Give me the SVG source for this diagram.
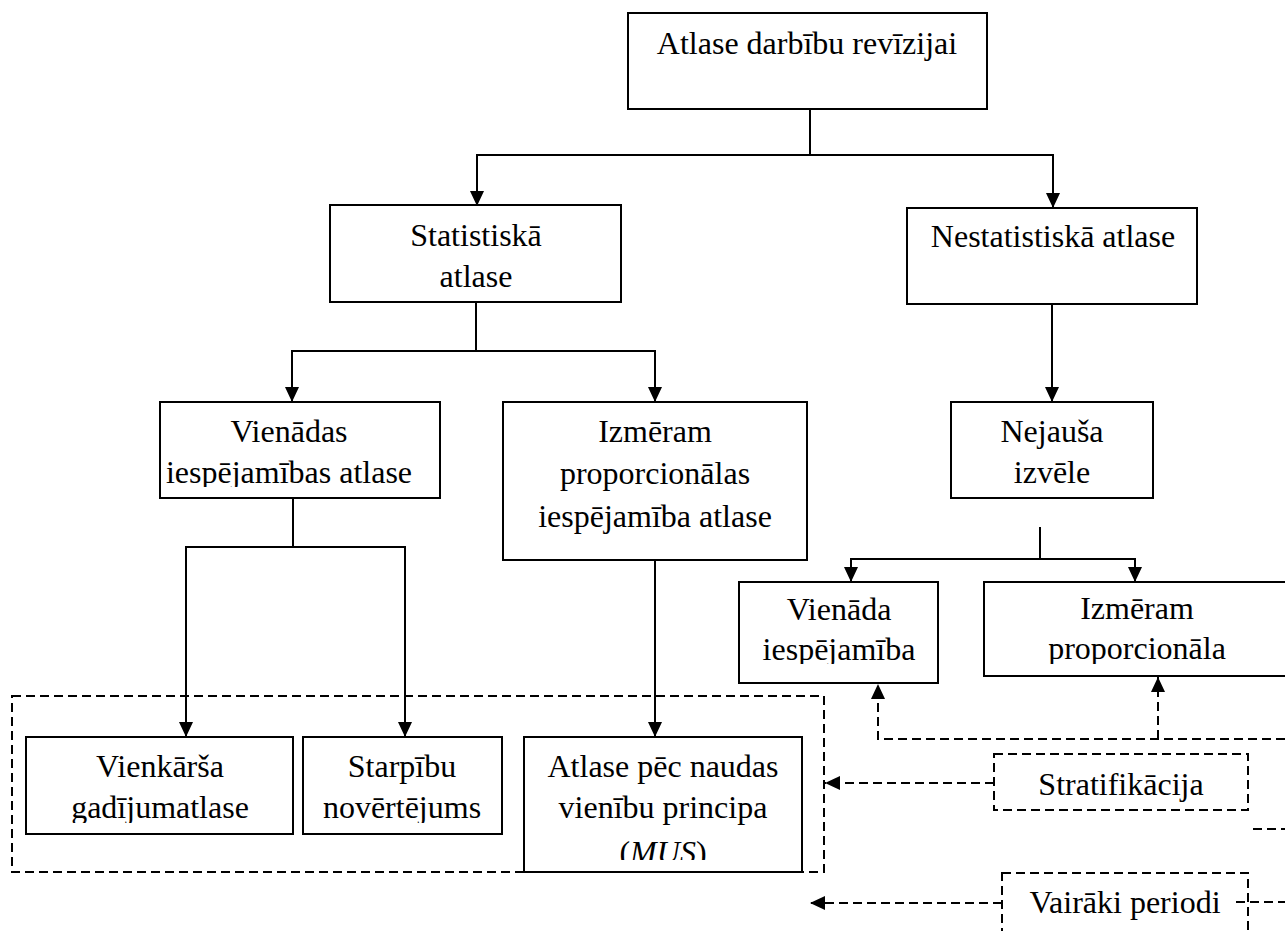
<svg xmlns="http://www.w3.org/2000/svg" width="1285" height="931" viewBox="0 0 1285 931">
<style>
.box{fill:#fff;stroke:#000;stroke-width:2}
.dbox{fill:none;stroke:#000;stroke-width:2;stroke-dasharray:9 5}
.t{font-family:"Liberation Serif","Times New Roman",serif;font-size:32px;fill:#000;text-anchor:middle}
.ln{fill:none;stroke:#000;stroke-width:2}
.arr{fill:none;stroke:#000;stroke-width:2;marker-end:url(#ah)}
.darr{fill:none;stroke:#000;stroke-width:2;stroke-dasharray:9 5;marker-end:url(#ah)}
.dln{fill:none;stroke:#000;stroke-width:2;stroke-dasharray:9 5}
</style>
<defs>
<marker id="ah" markerUnits="userSpaceOnUse" markerWidth="16" markerHeight="14" refX="15" refY="7" orient="auto">
<path d="M0,0 L15,7 L0,14 z" fill="#000"/>
</marker>
<clipPath id="c-vienadas"><rect x="160" y="402" width="280" height="85"/></clipPath>
<clipPath id="c-vienada"><rect x="739" y="582" width="199" height="82"/></clipPath>
<clipPath id="c-izmprop"><rect x="984" y="582" width="306" height="82"/></clipPath>
<clipPath id="c-bottom"><rect x="0" y="737" width="520" height="86"/></clipPath>
<clipPath id="c-mus"><rect x="524" y="737" width="278" height="123"/></clipPath>
</defs>
<rect width="1285" height="931" fill="#fff"/>

<g id="connectors">
<path class="ln" d="M810,109 V155"/>
<path class="arr" d="M810,155 H477 V206"/>
<path class="arr" d="M810,155 H1053 V208"/>
<path class="ln" d="M476,302 V351"/>
<path class="arr" d="M476,351 H292 V402"/>
<path class="arr" d="M476,351 H655 V402"/>
<path class="arr" d="M1052,304 V402"/>
<path class="ln" d="M293,498 V547"/>
<path class="arr" d="M293,547 H186 V737"/>
<path class="arr" d="M293,547 H405 V737"/>
<path class="arr" d="M655,560 V737"/>
<path class="ln" d="M1040,527 V559"/>
<path class="arr" d="M1040,559 H851 V582"/>
<path class="arr" d="M1040,559 H1135 V582"/>
<path class="darr" d="M1285,739 H878 V684"/>
<path class="darr" d="M1158,739 V677"/>
<path class="darr" d="M994,783 H825"/>
<path class="dln" d="M1253,829 H1285"/>
<path class="darr" d="M1002,903 H810"/>
<path class="dln" d="M1236,902 H1285"/>
</g>

<g id="group-statistical-methods">
<rect class="dbox" x="12" y="696" width="812" height="176"/>
</g>

<g id="node-top">
<rect class="box" x="628" y="13" width="359" height="96"/>
<text class="t" x="807" y="54">Atlase darbību revīzijai</text>
</g>

<g id="node-statistiska">
<rect class="box" x="330" y="205" width="291" height="97"/>
<text class="t" x="476" y="246">Statistiskā</text>
<text class="t" x="476" y="287">atlase</text>
</g>

<g id="node-nestatistiska">
<rect class="box" x="907" y="208" width="290" height="96"/>
<text class="t" x="1053" y="247">Nestatistiskā atlase</text>
</g>

<g id="node-vienadas">
<rect class="box" x="160" y="402" width="280" height="96"/>
<g clip-path="url(#c-vienadas)">
<text class="t" x="289" y="442">Vienādas</text>
<text class="t" x="289" y="483">iespējamības atlase</text>
</g>
</g>

<g id="node-izmeram-proporcionalas">
<rect class="box" x="503" y="402" width="304" height="158"/>
<text class="t" x="655" y="442">Izmēram</text>
<text class="t" x="655" y="484">proporcionālas</text>
<text class="t" x="655" y="527">iespējamība atlase</text>
</g>

<g id="node-nejausa">
<rect class="box" x="951" y="402" width="202" height="96"/>
<text class="t" x="1052" y="442">Nejauša</text>
<text class="t" x="1052" y="483">izvēle</text>
</g>

<g id="node-vienada">
<rect class="box" x="739" y="582" width="199" height="101"/>
<g clip-path="url(#c-vienada)">
<text class="t" x="839" y="620">Vienāda</text>
<text class="t" x="839" y="660">iespējamība</text>
</g>
</g>

<g id="node-izmeram-proporcionala">
<rect class="box" x="984" y="582" width="306" height="94"/>
<g clip-path="url(#c-izmprop)">
<text class="t" x="1137" y="619">Izmēram</text>
<text class="t" x="1137" y="659">proporcionāla</text>
</g>
</g>

<g id="node-vienkarsa">
<rect class="box" x="26" y="737" width="267" height="97"/>
<g clip-path="url(#c-bottom)">
<text class="t" x="160" y="777">Vienkārša</text>
<text class="t" x="160" y="818">gadījumatlase</text>
</g>
</g>

<g id="node-starpibu">
<rect class="box" x="303" y="737" width="199" height="97"/>
<g clip-path="url(#c-bottom)">
<text class="t" x="402" y="777">Starpību</text>
<text class="t" x="402" y="818">novērtējums</text>
</g>
</g>

<g id="node-mus">
<rect class="box" x="524" y="737" width="278" height="135"/>
<g clip-path="url(#c-mus)">
<text class="t" x="663" y="777">Atlase pēc naudas</text>
<text class="t" x="663" y="818">vienību principa</text>
<text class="t" x="663" y="863">(<tspan font-style="italic">MUS</tspan>)</text>
</g>
</g>

<g id="node-stratifikacija">
<rect class="dbox" x="994" y="754" width="254" height="56"/>
<text class="t" x="1121" y="795">Stratifikācija</text>
</g>

<g id="node-vairaki-periodi">
<rect class="dbox" x="1002" y="873" width="246" height="80"/>
<text class="t" x="1125" y="913">Vairāki periodi</text>
</g>
</svg>
